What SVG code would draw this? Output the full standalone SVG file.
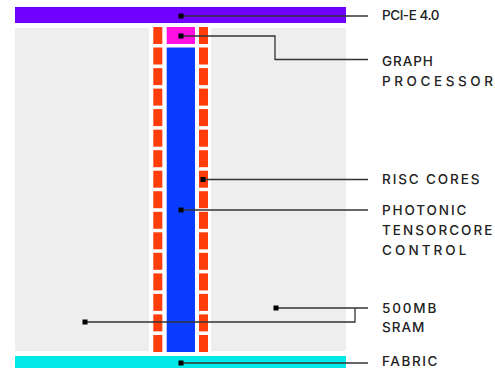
<svg xmlns="http://www.w3.org/2000/svg" width="495" height="368" viewBox="0 0 495 368">
<style>
.lbl{font-family:Inter,"Liberation Sans",Arial,sans-serif;font-size:13.5px;font-weight:500;fill:#222;letter-spacing:0.6px}
.red{fill:#FF3D0A}
.ln{fill:none;stroke:#333;stroke-width:1.3}
.dot{fill:#000}
</style>
<defs>
<rect id="rb" width="9" height="17" class="red"/>
</defs>
<rect width="495" height="368" fill="#fff"/>
<g id="chip">
<rect x="15" y="28" width="331" height="323" fill="#EEEEEE"/>
<rect x="149" y="28" width="62" height="323" fill="#fff"/>
</g>
<g id="pcie"><rect x="15" y="7" width="331" height="16" fill="#7000FF"/></g>
<g id="fabric"><rect x="15" y="356" width="331" height="12" fill="#00E8E8"/></g>
<g id="graph-processor"><rect x="166.7" y="27" width="28.3" height="17" fill="#FF10E0"/></g>
<g id="tensorcore-control"><rect x="166.7" y="47.5" width="28.3" height="304.5" fill="#0A3CFF"/></g>
<g id="risc-cores">
<use href="#rb" x="153.3" y="27"/><use href="#rb" x="153.3" y="47.5"/><use href="#rb" x="153.3" y="68.1"/><use href="#rb" x="153.3" y="88.6"/>
<use href="#rb" x="153.3" y="109.1"/><use href="#rb" x="153.3" y="129.7"/><use href="#rb" x="153.3" y="150.2"/><use href="#rb" x="153.3" y="170.7"/>
<use href="#rb" x="153.3" y="191.2"/><use href="#rb" x="153.3" y="211.8"/><use href="#rb" x="153.3" y="232.3"/><use href="#rb" x="153.3" y="252.8"/>
<use href="#rb" x="153.3" y="273.4"/><use href="#rb" x="153.3" y="293.9"/><use href="#rb" x="153.3" y="314.4"/><use href="#rb" x="153.3" y="335"/>
<use href="#rb" x="199" y="27"/><use href="#rb" x="199" y="47.5"/><use href="#rb" x="199" y="68.1"/><use href="#rb" x="199" y="88.6"/>
<use href="#rb" x="199" y="109.1"/><use href="#rb" x="199" y="129.7"/><use href="#rb" x="199" y="150.2"/><use href="#rb" x="199" y="170.7"/>
<use href="#rb" x="199" y="191.2"/><use href="#rb" x="199" y="211.8"/><use href="#rb" x="199" y="232.3"/><use href="#rb" x="199" y="252.8"/>
<use href="#rb" x="199" y="273.4"/><use href="#rb" x="199" y="293.9"/><use href="#rb" x="199" y="314.4"/><use href="#rb" x="199" y="335"/>
</g>
<g id="connectors">
<polyline class="ln" points="181,16 368,16"/>
<polyline class="ln" points="181,36 275,36 275,59.5 368,59.5"/>
<polyline class="ln" points="203,179.5 368,179.5"/>
<polyline class="ln" points="181,210 368,210"/>
<polyline class="ln" points="276,308 368,308"/>
<polyline class="ln" points="85,322 355,322 355,308"/>
<polyline class="ln" points="181,363 368,363"/>
<rect class="dot" x="178.5" y="13.5" width="5" height="5"/>
<rect class="dot" x="178.5" y="33.5" width="5" height="5"/>
<rect class="dot" x="200.5" y="177" width="5" height="5"/>
<rect class="dot" x="178.5" y="207.5" width="5" height="5"/>
<rect class="dot" x="273.5" y="305.5" width="5" height="5"/>
<rect class="dot" x="82.5" y="319.5" width="5" height="5"/>
<rect class="dot" x="178.5" y="360.5" width="5" height="5"/>
</g>
<g id="labels">
<text class="lbl" x="382" y="19.5" textLength="58" lengthAdjust="spacing">PCI-E 4.0</text>
<text class="lbl" x="382" y="65.5" textLength="51.5" lengthAdjust="spacing">GRAPH</text>
<text class="lbl" x="382" y="85.5" textLength="111.5" lengthAdjust="spacing">PROCESSOR</text>
<text class="lbl" x="382" y="183.5" textLength="98" lengthAdjust="spacing">RISC CORES</text>
<text class="lbl" x="382" y="215" textLength="85" lengthAdjust="spacing">PHOTONIC</text>
<text class="lbl" x="382" y="235" textLength="111" lengthAdjust="spacing">TENSORCORE</text>
<text class="lbl" x="382" y="255" textLength="85" lengthAdjust="spacing">CONTROL</text>
<text class="lbl" x="382" y="312.7" textLength="55" lengthAdjust="spacing">500MB</text>
<text class="lbl" x="382" y="332.3" textLength="43" lengthAdjust="spacing">SRAM</text>
<text class="lbl" x="382" y="366" textLength="56" lengthAdjust="spacing">FABRIC</text>
</g>
</svg>
